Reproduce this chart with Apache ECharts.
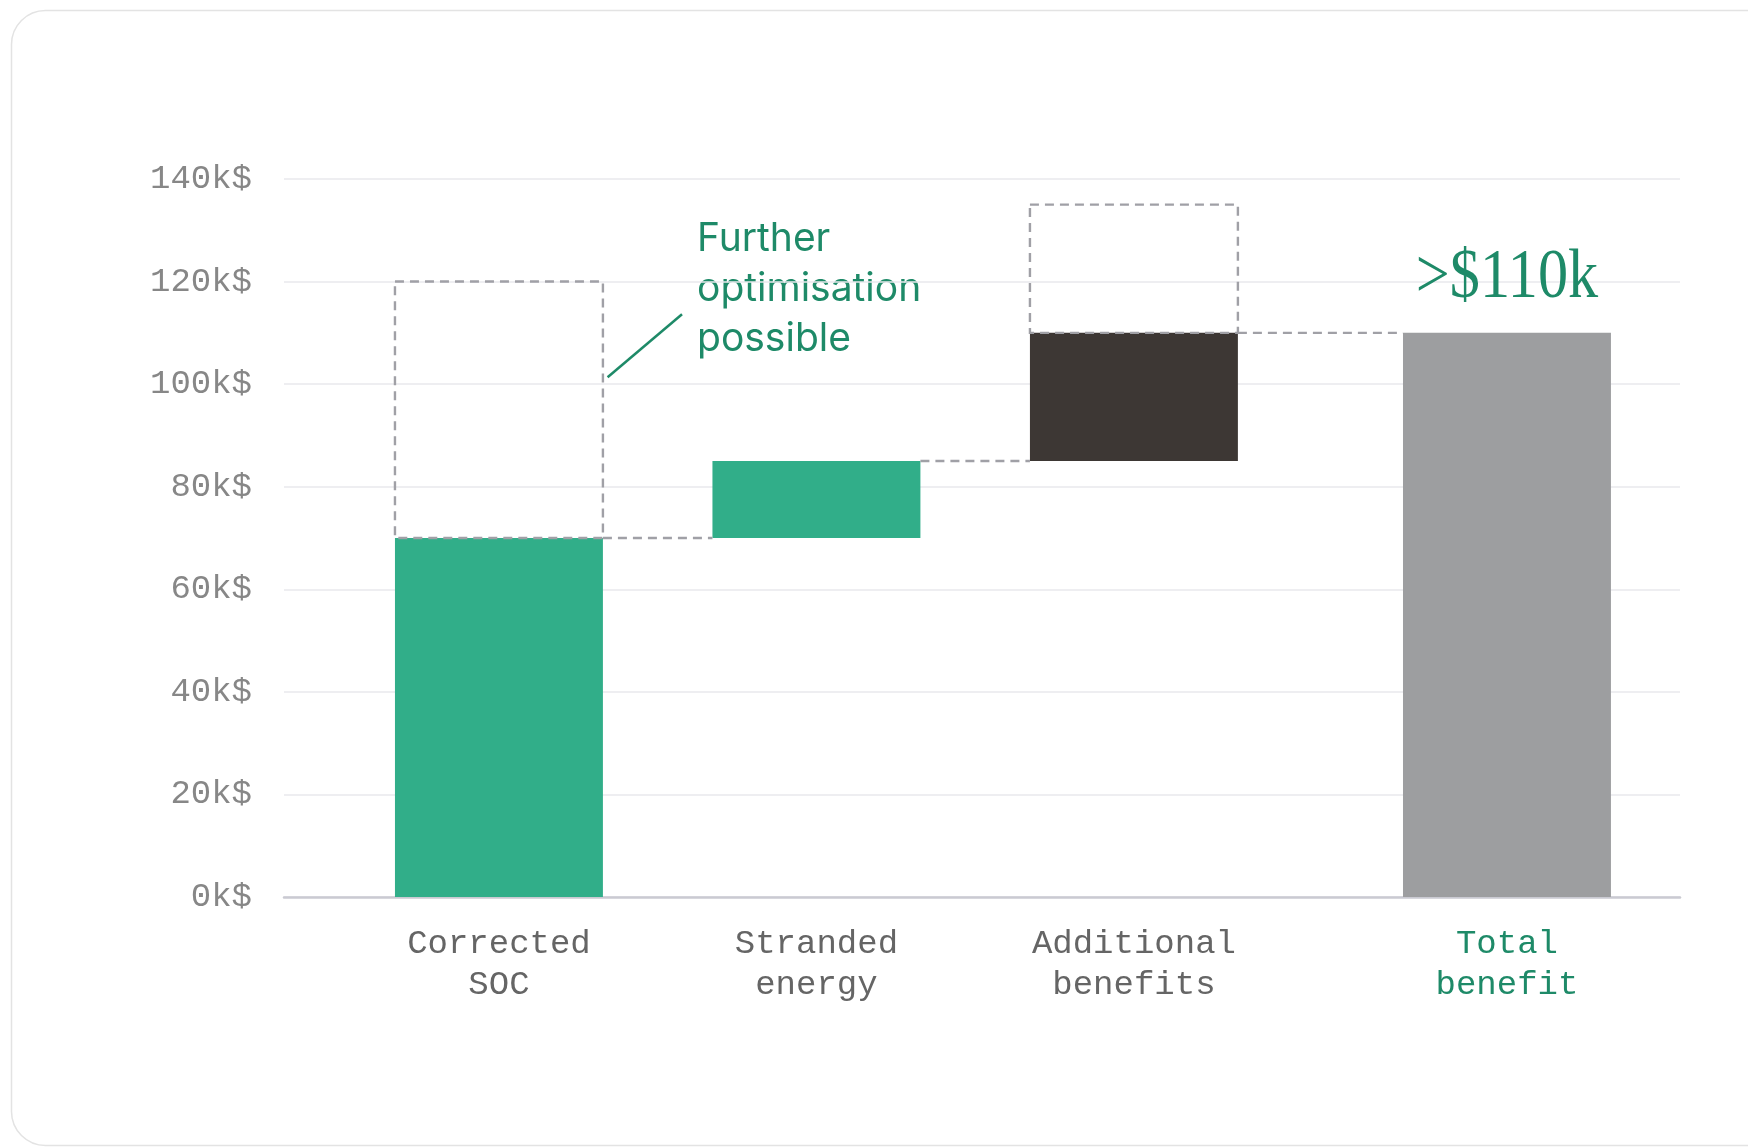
<!DOCTYPE html>
<html><head><meta charset="utf-8">
<script src="https://cdn.jsdelivr.net/npm/echarts@6/dist/echarts.min.js"></script>
<style>html,body{margin:0;padding:0;background:#fff}#chart{width:1748px;height:1147px}</style>
</head><body><div id="chart"></div>
<script>
// ---- data ----
const categories = ['Corrected\nSOC', 'Stranded\nenergy', 'Additional\nbenefits', 'Total\nbenefit'];
const barStart = [0, 70, 85, 0];
const barEnd = [70, 85, 110, 110];
const potentialEnd = [120, null, 135, null];
const yTickLabels = ['0k$', '20k$', '40k$', '60k$', '80k$', '100k$', '120k$', '140k$'];
const annotationLines = ['Further', 'optimisation', 'possible'];
const totalLabel = '>$110k';

// ---- layout / style ----
const GREEN_TEXT = '#1E8A68';
const barColors = ['#31AE89', '#31AE89', '#3D3734', '#9D9EA0'];
const DASH = '#A0A0A6';
const X_MIN = -0.677, X_MAX = 3.72, TOTAL_SHIFT = 0.175, BAR_W = 0.655;
const xPos = i => i + (i === categories.length - 1 ? TOTAL_SHIFT : 0);

const barData = categories.map((c, i) => [xPos(i), barStart[i], barEnd[i]]);
const potentialData = [];
potentialEnd.forEach((v, i) => { if (v != null) potentialData.push([xPos(i), barEnd[i], v]); });
const connectorData = [];
for (let i = 0; i < categories.length - 1; i++) connectorData.push([xPos(i), xPos(i + 1), barEnd[i]]);

function renderBar(params, api) {
  const i = params.dataIndex;
  const x = api.value(0);
  const pLo = api.coord([x, api.value(1)]);
  const pHi = api.coord([x, api.value(2)]);
  const base = api.coord([x, 0]);
  const w = api.size([BAR_W, 0])[0];
  const children = [
    { type: 'rect', shape: { x: pLo[0] - w / 2, y: pHi[1], width: w, height: pLo[1] - pHi[1] }, style: { fill: barColors[i] } },
    { type: 'text', x: base[0], y: base[1] + 26, style: { text: categories[i], font: '34px "Liberation Mono"', fill: i === categories.length - 1 ? GREEN_TEXT : '#656565', align: 'center', verticalAlign: 'top', lineHeight: 41 } }
  ];
  if (i === categories.length - 1) {
    children.push({ type: 'text', x: pHi[0], y: pHi[1] - 54, scaleX: 0.86, style: { text: totalLabel, font: '70px "Liberation Serif"', fill: GREEN_TEXT, align: 'center', verticalAlign: 'middle' } });
  }
  return { type: 'group', children };
}
function renderPotential(params, api) {
  const x = api.value(0);
  const pLo = api.coord([x, api.value(1)]);
  const pHi = api.coord([x, api.value(2)]);
  const w = api.size([BAR_W, 0])[0];
  return { type: 'rect', z2: 5, shape: { x: pLo[0] - w / 2, y: pHi[1], width: w, height: pLo[1] - pHi[1] },
    style: { fill: 'none', stroke: DASH, lineWidth: 2.4, lineDash: [9, 6] } };
}
function renderConnector(params, api) {
  const w = api.size([BAR_W, 0])[0];
  const a = api.coord([api.value(0), api.value(2)]);
  const b = api.coord([api.value(1), api.value(2)]);
  return { type: 'line', shape: { x1: a[0] + w / 2, y1: a[1], x2: b[0] - w / 2, y2: b[1] },
    style: { stroke: DASH, lineWidth: 2.4, lineDash: [9, 6] } };
}

const chart = echarts.init(document.getElementById('chart'), null, { renderer: 'canvas' });
chart.setOption({
  animation: false,
  backgroundColor: '#fff',
  grid: { left: 284, right: 68, top: 179, bottom: 250, containLabel: false },
  xAxis: {
    type: 'value', min: X_MIN, max: X_MAX,
    axisLine: { show: true, lineStyle: { color: '#CACAD2', width: 2.5 } },
    axisTick: { show: false }, axisLabel: { show: false }, splitLine: { show: false }
  },
  yAxis: {
    type: 'value', min: 0, max: 140, interval: 20,
    axisLine: { show: false }, axisTick: { show: false },
    axisLabel: { formatter: v => yTickLabels[Math.round(v / 20)], fontFamily: 'Liberation Mono', fontSize: 34, color: '#878787', margin: 32 },
    splitLine: { lineStyle: { color: '#E8E8EC', width: 1.5 } }
  },
  graphic: [
    { type: 'rect', z: -10, silent: true, shape: { x: 11.5, y: 10.5, width: 1900, height: 1135, r: 34 },
      style: { fill: 'none', stroke: '#E3E3E3', lineWidth: 1.5 } },
    { type: 'text', x: 697, y: 214, style: { text: annotationLines.join('\n'), font: '39px Inter', fill: GREEN_TEXT, lineHeight: 50, verticalAlign: 'top', align: 'left' } },
    { type: 'line', shape: { x1: 607.6, y1: 377.3, x2: 682, y2: 314.3 }, style: { stroke: GREEN_TEXT, lineWidth: 2.5 } }
  ],
  series: [
    { type: 'custom', name: 'bars', renderItem: renderBar, data: barData, encode: { x: 0, y: [1, 2] }, z: 2 },
    { type: 'custom', name: 'connectors', renderItem: renderConnector, data: connectorData, encode: { x: [0, 1], y: 2 }, z: 3 },
    { type: 'custom', name: 'potential', renderItem: renderPotential, data: potentialData, encode: { x: 0, y: [1, 2] }, z: 4 }
  ]
});
</script></body></html>
